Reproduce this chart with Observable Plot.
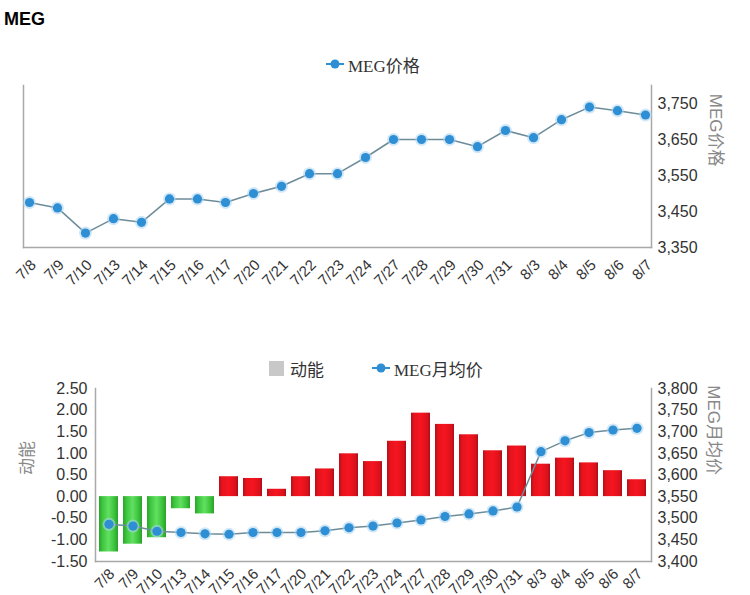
<!DOCTYPE html>
<html><head><meta charset="utf-8">
<script src="https://cdn.jsdelivr.net/npm/d3@7"></script>
<script src="https://cdn.jsdelivr.net/npm/@observablehq/plot@0.6"></script>
<style>
body{margin:0;background:#fff;}
#wrap{position:relative;width:750px;height:595px;overflow:hidden;font-family:"Liberation Sans",Arial,sans-serif;background:#fff;}
.title{position:absolute;left:4px;top:10px;font-weight:bold;font-size:18px;line-height:1;color:#000;z-index:5;}
.leg{position:absolute;display:flex;align-items:center;height:20px;font-family:"Liberation Serif","Noto Sans CJK SC",serif;font-size:17px;color:#333;z-index:5;white-space:nowrap;}
.sq{width:15px;height:15px;background:#c8c8c8;margin-right:6px;}
</style></head><body><div id="wrap"><div class="title">MEG</div></div>
<script>
// ---- data ----
const dates = ["7/8","7/9","7/10","7/13","7/14","7/15","7/16","7/17","7/20","7/21","7/22","7/23","7/24","7/27","7/28","7/29","7/30","7/31","8/3","8/4","8/5","8/6","8/7"];
const price = [3475,3460,3390,3430,3420,3485,3485,3475,3500,3520,3555,3555,3600,3650,3650,3650,3630,3675,3655,3705,3740,3730,3718];
const momentum = [-1.28,-1.10,-0.95,-0.28,-0.40,0.46,0.42,0.17,0.46,0.64,0.99,0.81,1.28,1.93,1.67,1.43,1.06,1.17,0.75,0.89,0.78,0.60,0.39];
const avgPrice = [3486,3482,3470,3467,3464,3463,3467,3467,3467,3471,3478,3482,3489,3496,3504,3510,3517,3526,3654,3679,3698,3704,3708];
const priceTicks = [3350,3450,3550,3650,3750];
const momTicks = [-1.5,-1.0,-0.5,0,0.5,1.0,1.5,2.0,2.5];
const avgTicks = [3400,3450,3500,3550,3600,3650,3700,3750,3800];
const seriesPrice = "MEG价格";
const seriesMom = "动能";
const seriesAvg = "MEG月均价";

const topData = dates.map((d,i)=>({date:d, v:price[i]}));
const momData = dates.map((d,i)=>({date:d, v:momentum[i]}));
const avgData = dates.map((d,i)=>({date:d, v:avgPrice[i]}));

const wrap = document.getElementById("wrap");
const font = "Liberation Sans, Arial, sans-serif";
const axisStroke = "#a8a8a8";
const lineColor = "#6d8c99";
const dotColor = "#2e8fd4";
const halo = "#a9d4f2";

function place(svg, top){
  svg.style.position = "absolute";
  svg.style.left = "0px";
  svg.style.top = top + "px";
  svg.style.background = "transparent";
  svg.style.maxWidth = "none";
  wrap.appendChild(svg);
}

// ---- top chart ----
const p1 = Plot.plot({
  width:750, height:300,
  marginTop:85, marginBottom:53, marginLeft:23, marginRight:99,
  style:{fontFamily:font, color:"#333", overflow:"visible"},
  x:{type:"point", domain:dates, padding:0, label:null},
  y:{domain:[3350,3800], label:null},
  marks:[
    Plot.frame({anchor:"left", stroke:axisStroke, strokeWidth:1.5}),
    Plot.frame({anchor:"right", stroke:axisStroke, strokeWidth:1.5}),
    Plot.frame({anchor:"bottom", stroke:axisStroke, strokeWidth:1.5}),
    Plot.axisY(priceTicks, {anchor:"right", tickSize:0, tickPadding:6, tickFormat:d3.format(","), fontSize:16, label:null}),
    Plot.axisX({tickSize:0, tickRotate:-45, tickPadding:15, dx:4, fontSize:15, label:null}),
    Plot.line(topData, {x:"date", y:"v", stroke:lineColor, strokeWidth:1.5}),
    Plot.dot(topData, {x:"date", y:"v", r:6.5, fill:halo, fillOpacity:0.55}),
    Plot.dot(topData, {x:"date", y:"v", r:4.6, fill:dotColor}),
    Plot.text([seriesPrice], {frameAnchor:"right", rotate:90, dx:64, fontSize:17, fill:"#888", fontFamily:"Liberation Sans, Noto Sans CJK SC, sans-serif"})
  ]
});
place(p1, 0);

// ---- bottom chart: bars + left axis ----
const p2 = Plot.plot({
  width:750, height:295,
  marginTop:88, marginBottom:34, marginLeft:95, marginRight:99,
  style:{fontFamily:font, color:"#333", overflow:"visible"},
  x:{type:"band", domain:dates, paddingInner:0.2, paddingOuter:0.1, label:null},
  y:{domain:[-1.5,2.5], label:null},
  marks:[
    Plot.barY(momData.filter(d=>d.v>=0), {x:"date", y:"v", fill:"url(#gRed)"}),
    Plot.barY(momData.filter(d=>d.v<0), {x:"date", y:"v", fill:"url(#gGreen)"}),
    Plot.frame({anchor:"left", stroke:axisStroke, strokeWidth:1.5}),
    Plot.frame({anchor:"bottom", stroke:axisStroke, strokeWidth:1.5}),
    Plot.axisY(momTicks, {anchor:"left", tickSize:0, tickPadding:8, tickFormat:d=>d.toFixed(2), fontSize:16, label:null}),
    Plot.axisX({tickSize:0, tickRotate:-45, tickPadding:10, dx:3, fontSize:15, label:null}),
    Plot.text([seriesMom], {frameAnchor:"left", rotate:-90, dx:-68, fontSize:17, fill:"#888", fontFamily:"Liberation Sans, Noto Sans CJK SC, sans-serif"})
  ]
});
d3.select(p2).insert("defs", ":first-child").html(
  '<linearGradient id="gRed" x1="0" x2="1" y1="0" y2="0">' +
  '<stop offset="0" stop-color="#b50f1a"/><stop offset="0.15" stop-color="#e3131d"/>' +
  '<stop offset="0.5" stop-color="#f5151f"/><stop offset="0.85" stop-color="#dd121c"/>' +
  '<stop offset="1" stop-color="#a80e18"/></linearGradient>' +
  '<linearGradient id="gGreen" x1="0" x2="1" y1="0" y2="0">' +
  '<stop offset="0" stop-color="#2aa52a"/><stop offset="0.2" stop-color="#3fc83f"/>' +
  '<stop offset="0.5" stop-color="#62df62"/><stop offset="0.8" stop-color="#3cc43c"/>' +
  '<stop offset="1" stop-color="#2a9f2a"/></linearGradient>'
);
place(p2, 300);

// ---- bottom chart: monthly average line + right axis ----
const p3 = Plot.plot({
  width:750, height:295,
  marginTop:88, marginBottom:34, marginLeft:95, marginRight:99,
  style:{fontFamily:font, color:"#333", overflow:"visible"},
  x:{type:"band", domain:dates, paddingInner:0.2, paddingOuter:0.1, axis:null},
  y:{domain:[3400,3800], label:null},
  marks:[
    Plot.frame({anchor:"right", stroke:axisStroke, strokeWidth:1.5}),
    Plot.axisY(avgTicks, {anchor:"right", tickSize:0, tickPadding:6, tickFormat:d3.format(","), fontSize:16, label:null}),
    Plot.line(avgData, {x:"date", y:"v", stroke:lineColor, strokeWidth:1.5}),
    Plot.dot(avgData, {x:"date", y:"v", r:6.5, fill:halo, fillOpacity:0.55}),
    Plot.dot(avgData, {x:"date", y:"v", r:4.6, fill:dotColor}),
    Plot.text([seriesAvg], {frameAnchor:"right", rotate:90, dx:62, fontSize:17, fill:"#888", fontFamily:"Liberation Sans, Noto Sans CJK SC, sans-serif"})
  ]
});
place(p3, 300);

// ---- legends ----
function marker(){
  return '<svg width="18" height="12" style="margin-right:4px"><line x1="0" x2="18" y1="6" y2="6" stroke="'+dotColor+'" stroke-width="2"/><circle cx="9" cy="6" r="4.5" fill="'+dotColor+'"/></svg>';
}
const l1 = document.createElement("div");
l1.className = "leg"; l1.style.left = "326px"; l1.style.top = "54px";
l1.innerHTML = marker() + '<span>' + seriesPrice + '</span>';
wrap.appendChild(l1);

const l2 = document.createElement("div");
l2.className = "leg"; l2.style.left = "269px"; l2.style.top = "358px";
l2.innerHTML = '<div class="sq"></div><span>' + seriesMom + '</span>';
wrap.appendChild(l2);

const l3 = document.createElement("div");
l3.className = "leg"; l3.style.left = "372px"; l3.style.top = "358px";
l3.innerHTML = marker() + '<span>' + seriesAvg + '</span>';
wrap.appendChild(l3);
</script>
</body></html>
